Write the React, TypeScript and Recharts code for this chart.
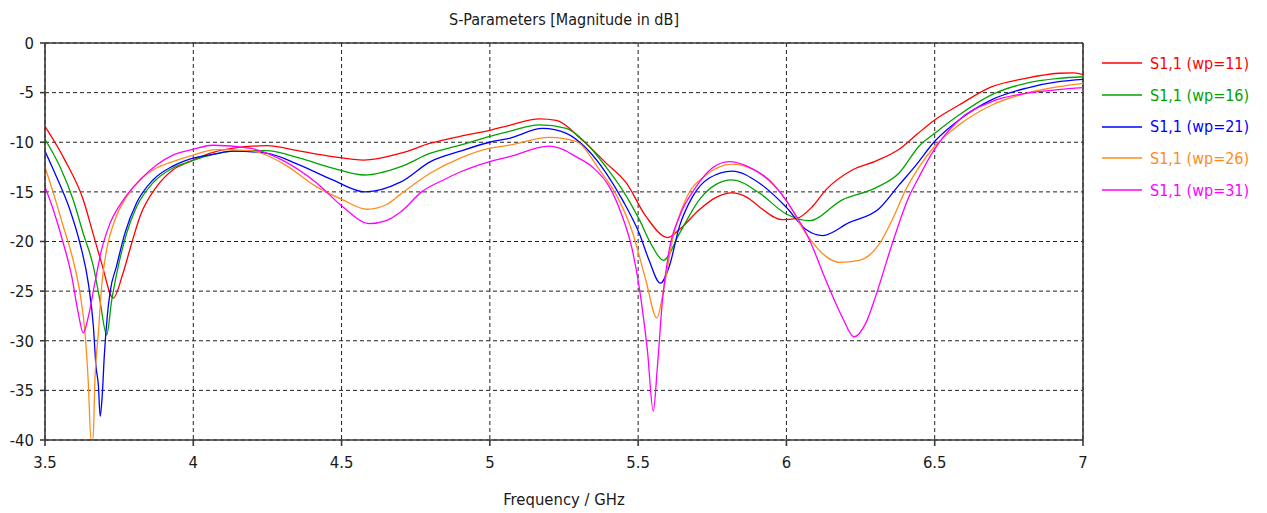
import React from "react";
import {
  LineChart,
  Line,
  XAxis,
  YAxis,
  CartesianGrid,
  ReferenceLine,
} from "recharts";

const TITLE = "S-Parameters [Magnitude in dB]";
const X_LABEL = "Frequency / GHz";
const X_TICKS = [3.5, 4, 4.5, 5, 5.5, 6, 6.5, 7];
const Y_TICKS = [0, -5, -10, -15, -20, -25, -30, -35, -40];

const SERIES_NAMES = [
  "S1,1 (wp=11)",
  "S1,1 (wp=16)",
  "S1,1 (wp=21)",
  "S1,1 (wp=26)",
  "S1,1 (wp=31)",
];
const SERIES_COLORS = ["#ff0000", "#00a300", "#0000ff", "#ff8c1a", "#ff00ff"];

const wp11F = [3.5, 3.567, 3.629, 3.662, 3.691, 3.73, 3.763, 3.792, 3.82, 3.876, 3.931, 3.988, 4.07, 4.135, 4.246, 4.359, 4.47, 4.575, 4.7, 4.8, 4.9, 5.0, 5.066, 5.167, 5.224, 5.312, 5.392, 5.46, 5.527, 5.6, 5.639, 5.706, 5.76, 5.815, 5.87, 5.908, 5.986, 6.033, 6.087, 6.133, 6.222, 6.301, 6.38, 6.44, 6.5, 6.582, 6.693, 6.807, 6.918, 6.97, 7.0];
const wp11V = [-8.4, -11.8, -15.8, -19.2, -22.2, -25.7, -23.2, -20.2, -17.5, -14.5, -12.8, -11.95, -11.0, -10.6, -10.35, -10.9, -11.45, -11.8, -11.1, -10.1, -9.4, -8.8, -8.3, -7.65, -7.8, -9.8, -12.1, -14.1, -17.5, -19.6, -18.8, -16.8, -15.6, -15.1, -15.6, -16.5, -17.8, -17.7, -16.5, -14.8, -12.8, -11.9, -10.7, -9.2, -7.75, -6.25, -4.4, -3.56, -3.05, -3.0, -3.2];

const wp16F = [3.5, 3.551, 3.595, 3.629, 3.663, 3.685, 3.708, 3.725, 3.747, 3.775, 3.809, 3.864, 3.931, 3.988, 4.07, 4.135, 4.246, 4.359, 4.47, 4.578, 4.7, 4.8, 4.9, 5.0, 5.066, 5.167, 5.258, 5.325, 5.392, 5.447, 5.504, 5.548, 5.585, 5.639, 5.706, 5.76, 5.817, 5.908, 5.998, 6.077, 6.188, 6.301, 6.38, 6.447, 6.5, 6.582, 6.693, 6.807, 6.918, 7.0];
const wp16V = [-9.7, -12.5, -15.8, -19.2, -22.5, -25.9, -29.4, -25.9, -22.5, -19.2, -16.5, -14.1, -12.6, -11.95, -11.2, -10.9, -10.85, -11.6, -12.6, -13.3, -12.45, -11.1, -10.3, -9.4, -8.9, -8.25, -8.6, -10.1, -12.5, -14.8, -17.8, -20.5, -21.9, -19.2, -15.8, -14.3, -13.8, -15.1, -17.2, -17.9, -15.8, -14.6, -13.1, -10.4, -9.1, -7.25, -5.2, -4.06, -3.56, -3.4];

const wp21F = [3.5, 3.539, 3.584, 3.618, 3.646, 3.663, 3.672, 3.68, 3.686, 3.693, 3.7, 3.71, 3.72, 3.741, 3.769, 3.809, 3.864, 3.931, 3.988, 4.07, 4.135, 4.246, 4.359, 4.47, 4.58, 4.7, 4.8, 4.9, 5.0, 5.066, 5.178, 5.258, 5.325, 5.392, 5.447, 5.504, 5.537, 5.575, 5.605, 5.639, 5.683, 5.74, 5.817, 5.908, 5.998, 6.066, 6.122, 6.211, 6.312, 6.38, 6.437, 6.5, 6.582, 6.693, 6.807, 6.918, 7.0];
const wp21V = [-10.9, -13.5, -16.8, -20.2, -24.2, -28.5, -32.6, -34.5, -37.6, -35.5, -31.5, -27.5, -25.0, -22.5, -19.2, -16.1, -13.8, -12.4, -11.7, -11.2, -10.9, -11.1, -12.3, -13.8, -15.0, -14.0, -11.95, -10.9, -10.0, -9.6, -8.6, -9.1, -10.6, -13.1, -15.8, -19.2, -21.9, -24.2, -22.5, -18.5, -15.5, -13.6, -12.9, -14.1, -16.5, -18.8, -19.4, -18.1, -16.7, -14.3, -12.3, -9.9, -7.75, -5.7, -4.56, -3.9, -3.66];

const wp26F = [3.5, 3.528, 3.562, 3.595, 3.618, 3.635, 3.646, 3.655, 3.662, 3.668, 3.68, 3.691, 3.708, 3.736, 3.775, 3.82, 3.876, 3.931, 3.988, 4.079, 4.19, 4.3, 4.416, 4.504, 4.585, 4.65, 4.7, 4.8, 4.9, 5.0, 5.066, 5.2, 5.29, 5.37, 5.43, 5.48, 5.526, 5.563, 5.588, 5.616, 5.66, 5.729, 5.817, 5.908, 5.998, 6.066, 6.133, 6.178, 6.245, 6.312, 6.357, 6.402, 6.447, 6.5, 6.582, 6.693, 6.807, 6.918, 7.0];
const wp26V = [-12.5, -15.1, -18.5, -21.9, -25.2, -29.2, -34.2, -40, -40, -34.2, -29.2, -24.5, -20.8, -17.8, -15.5, -13.8, -12.6, -11.95, -11.4, -10.75, -10.85, -12.1, -14.5, -15.8, -16.75, -16.3, -15.2, -13.1, -11.6, -10.6, -10.3, -9.5, -9.9, -12.8, -15.5, -19.0, -23.9, -27.7, -24.5, -19.8, -15.8, -13.3, -12.2, -13.1, -15.8, -19.2, -21.5, -22.1, -21.9, -20.3, -17.8, -14.8, -12.5, -10.4, -8.25, -6.25, -5.07, -4.4, -4.06];

const wp31F = [3.5, 3.528, 3.562, 3.59, 3.612, 3.629, 3.646, 3.668, 3.691, 3.719, 3.764, 3.82, 3.876, 3.931, 3.988, 4.066, 4.19, 4.3, 4.416, 4.504, 4.595, 4.65, 4.7, 4.77, 4.85, 4.9, 5.0, 5.066, 5.2, 5.235, 5.29, 5.346, 5.403, 5.447, 5.48, 5.51, 5.531, 5.551, 5.565, 5.582, 5.605, 5.639, 5.695, 5.75, 5.807, 5.874, 5.952, 6.02, 6.077, 6.133, 6.188, 6.228, 6.268, 6.301, 6.357, 6.413, 6.447, 6.491, 6.582, 6.693, 6.807, 6.918, 7.0];
const wp31V = [-14.5, -16.8, -20.2, -23.5, -27.2, -29.2, -27.6, -24.2, -20.8, -18.2, -15.8, -13.8, -12.3, -11.3, -10.8, -10.3, -10.6, -11.8, -14.1, -16.5, -18.2, -17.9, -17.0, -15.0, -13.7, -13.0, -11.95, -11.45, -10.4, -10.6, -11.45, -12.5, -14.5, -17.5, -20.8, -25.9, -30.9, -37.1, -32.6, -25.9, -20.8, -17.5, -14.5, -12.6, -11.95, -12.5, -14.1, -16.8, -19.8, -23.9, -27.6, -29.6, -28.2, -25.5, -20.2, -15.5, -13.5, -11.1, -7.75, -5.9, -5.07, -4.7, -4.5];

const FREQS = [wp11F, wp16F, wp21F, wp26F, wp31F];
const VALUES = [wp11V, wp16V, wp21V, wp26V, wp31V];

const seriesData = FREQS.map((fs, i) =>
  fs.map((f, j) => ({ f, v: VALUES[i][j] }))
);

const FONT = "Tahoma, 'DejaVu Sans Condensed', 'DejaVu Sans', sans-serif";
const TEXT_COLOR = "#1a1a1a";
const AXIS_COLOR = "#3a3a3a";

const LegendBox = () => (
  <div
    style={{
      position: "absolute",
      left: 1102,
      top: 47.5,
      fontFamily: FONT,
      fontSize: 16,
    }}
  >
    {SERIES_NAMES.map((name, i) => (
      <div
        key={name}
        style={{ height: 31.7, display: "flex", alignItems: "center" }}
      >
        <svg width={48} height={4} style={{ display: "block" }}>
          <line x1={0} y1={2} x2={40} y2={2} stroke={SERIES_COLORS[i]} strokeWidth={1.3} />
        </svg>
        <span style={{ color: SERIES_COLORS[i], whiteSpace: "nowrap" }}>{name}</span>
      </div>
    ))}
  </div>
);

export default function App() {
  return (
    <div
      style={{
        position: "absolute",
        left: 0,
        top: 0,
        width: 1267,
        height: 513,
        background: "#ffffff",
      }}
    >
      <LineChart
        width={1267}
        height={513}
        margin={{ top: 43, right: 184, bottom: 0, left: 0 }}
      >
        <CartesianGrid
          stroke="#222222"
          strokeDasharray="4 3"
          strokeWidth={1}
        />
        <XAxis
          type="number"
          dataKey="f"
          domain={[3.5, 7]}
          ticks={X_TICKS}
          allowDataOverflow
          height={73}
          stroke={AXIS_COLOR}
          strokeWidth={1.6}
          tickSize={6}
          tickMargin={10}
          tick={{ fill: TEXT_COLOR, fontSize: 16.5, fontFamily: FONT }}
          tickFormatter={(v: number) => String(v)}
          label={{
            value: X_LABEL,
            position: "insideBottom",
            offset: 8,
            fill: TEXT_COLOR,
            fontSize: 16.5,
            fontFamily: FONT,
          }}
        />
        <YAxis
          type="number"
          domain={[-40, 0]}
          ticks={Y_TICKS}
          allowDataOverflow
          width={45}
          stroke={AXIS_COLOR}
          strokeWidth={1.6}
          tickSize={5}
          tickMargin={6}
          tick={{ fill: TEXT_COLOR, fontSize: 16.5, fontFamily: FONT }}
        />
        <ReferenceLine
          y={0}
          stroke={AXIS_COLOR}
          strokeWidth={1.6}
          label={{
            value: TITLE,
            position: "top",
            offset: 18,
            fill: TEXT_COLOR,
            fontSize: 16,
            fontFamily: FONT,
          }}
        />
        <ReferenceLine x={7} stroke={AXIS_COLOR} strokeWidth={1.6} />
        {seriesData.map((d, i) => (
          <Line
            key={SERIES_NAMES[i]}
            data={d}
            dataKey="v"
            name={SERIES_NAMES[i]}
            type="monotone"
            stroke={SERIES_COLORS[i]}
            strokeWidth={1.3}
            dot={false}
            activeDot={false}
            isAnimationActive={false}
          />
        ))}
      </LineChart>
      <LegendBox />
    </div>
  );
}
